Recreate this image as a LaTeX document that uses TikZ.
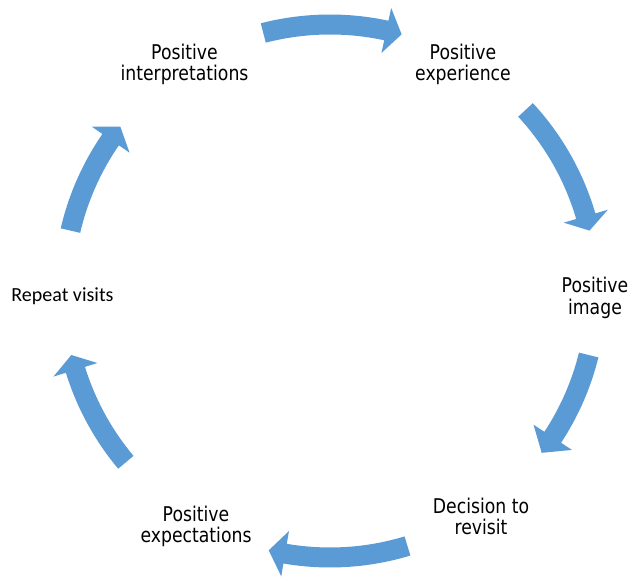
\documentclass[tikz,border=0pt]{standalone}
\usepackage{fontspec}
\newfontfamily\labelfont[FakeStretch=0.85]{DejaVu Sans}
\newfontfamily\calibrifont{Carlito}
\definecolor{cycleblue}{RGB}{91,155,213}

% Curved block arrow on the ring: #1 tail angle, #2 head-base angle, #3 tip angle
\newcommand{\ringarrow}[3]{%
  \fill[cycleblue] (#1:276.5) arc[start angle=#1, end angle=#2, radius=276.5]
    -- (#2:289.5) -- (#3:266.5) -- (#2:243.5) -- (#2:256.5)
    arc[start angle=#2, end angle=#1, radius=256.5] -- cycle;}

\tikzset{
  steplabel/.style={align=center, inner sep=0pt, font=\labelfont\fontsize{20.3}{21.5}\selectfont},
  plainlabel/.style={inner sep=0pt, font=\calibrifont\fontsize{20}{22}\selectfont}
}

\begin{document}
\begin{tikzpicture}[x=1pt, y=1pt]
  \useasboundingbox (0,0) rectangle (632,577);

  % ring of arrows, clockwise
  \begin{scope}[shift={(330,286)}]
    \coordinate (ring) at (0,0);
    \ringarrow{104.5}{77.8}{74.4}
    \ringarrow{42.8}{16.3}{13.1}
    \ringarrow{-13.9}{-33.3}{-37.4}
    \ringarrow{-73.1}{-99.7}{-103.3}
    \ringarrow{-140.0}{-162.8}{-166.1}
    \ringarrow{166.9}{145.4}{141.9}
  \end{scope}

  % stage labels
  \node[steplabel] (experience) at (463,512.5) {Positive\\experience};
  \node[steplabel] (image) at (595,279) {Positive\\image};
  \node[steplabel] (decision) at (481,60.5) {Decision to\\revisit};
  \node[steplabel] (expectations) at (196,50.5) {Positive\\expectations};
  \node[plainlabel] (repeat) at (62.5,280.7) {Repeat visits};
  \node[steplabel] (interpretations) at (184.5,512.5) {Positive\\interpretations};
\end{tikzpicture}
\end{document}
